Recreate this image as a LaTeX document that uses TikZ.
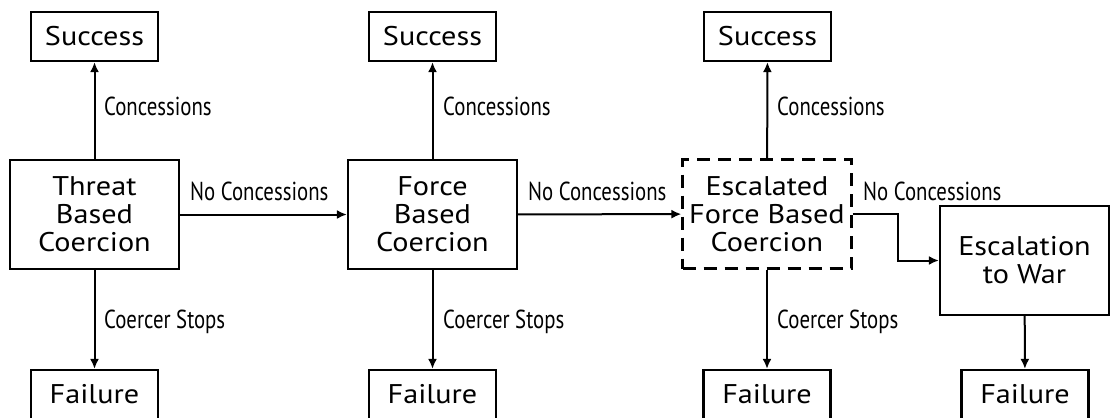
\documentclass[tikz,border=0pt]{standalone}
\usepackage{fontspec}
\setmainfont[FakeStretch=1.12]{PT Sans}
\newfontfamily\lblfont[FakeStretch=0.8]{PT Sans}
\usetikzlibrary{arrows.meta,calc}
\begin{document}
\begin{tikzpicture}[x=1pt,y=-1pt,
  box/.style={draw,line width=2.2pt,rectangle,inner sep=0pt,align=center,
    font=\fontsize{27}{28}\selectfont},
  small/.style={box,minimum width=127pt,minimum height=49pt},
  big/.style={box,minimum width=169pt,minimum height=109pt},
  arr/.style={line width=2pt,-{Latex[length=10pt,width=9pt]}},
  lbl/.style={anchor=base west,inner sep=0pt,font=\lblfont\fontsize{26}{28}\selectfont}]
\useasboundingbox (0,0) rectangle (1112,418);

% column 1
\node[small] (s1) at (94.5,36.5) {Success};
\node[big] (t1) at (94.5,214.5) {Threat\\Based\\Coercion};
\node[small] (f1) at (94.5,394.5) {Failure};
% column 2
\node[small] (s2) at (432.5,36.5) {Success};
\node[big] (t2) at (432.5,214.5) {Force\\Based\\Coercion};
\node[small] (f2) at (432.5,394.5) {Failure};
% column 3
\node[small] (s3) at (767.5,36.5) {Success};
\node[big,dash pattern=on 13pt off 8pt] (t3) at (767,214) {Escalated\\Force Based\\Coercion};
\node[small] (f3) at (767,394.5) {Failure};
% column 4
\node[big] (w) at (1024.5,260.5) {Escalation\\to War};
\node[small] (f4) at (1025,394.5) {Failure};

% connectors
\draw[arr] (t1) -- (s1);
\draw[arr] (t1) -- (f1);
\draw[arr] (t1) -- (t2);
\draw[arr] (t2) -- (s2);
\draw[arr] (t2) -- (f2);
\draw[arr] (t2) -- (t3);
\draw[arr] (t3) -- (s3);
\draw[arr] (t3) -- (f3);
\draw[arr] (t3.east) -- ++(45,0) |- (w.west);
\draw[arr] (w) -- (f4);

% labels
\node[lbl] (c1) at (104,115) {Concessions};
\node[lbl] (k1) at (104,328) {Coercer Stops};
\node[lbl] (n1) at (190,200) {No Concessions};
\node[lbl] (c2) at (443,115) {Concessions};
\node[lbl] (k2) at (443,328) {Coercer Stops};
\node[lbl] (n2) at (528,200) {No Concessions};
\node[lbl] (c3) at (777,115) {Concessions};
\node[lbl] (k3) at (777,328) {Coercer Stops};
\node[lbl] (n3) at (863,200) {No Concessions};
\end{tikzpicture}
\end{document}
